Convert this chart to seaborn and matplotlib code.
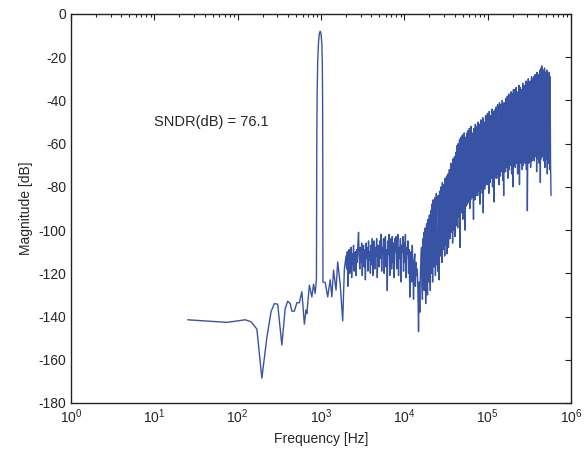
import numpy as np
import pandas as pd
import matplotlib
matplotlib.use("Agg")
import matplotlib.pyplot as plt
import seaborn as sns

sns.set_style("white")
plt.rcParams['font.family'] = ['Liberation Sans', 'DejaVu Sans']
plt.rcParams['mathtext.fontset'] = 'custom'
plt.rcParams['mathtext.rm'] = 'Liberation Sans'
plt.rcParams['mathtext.it'] = 'Liberation Sans'
plt.rcParams['axes.unicode_minus'] = False
plt.rcParams['xtick.direction'] = 'in'
plt.rcParams['ytick.direction'] = 'in'

LINE_COLOR = '#3953A4'

# low-frequency part + signal tone (log10 of frequency, dB)
logf_low = [1.40, 1.87, 2.09, 2.16, 2.23, 2.29, 2.35, 2.40, 2.44, 2.48, 2.53, 2.57,
            2.60, 2.63, 2.65, 2.68, 2.71, 2.74, 2.77, 2.80, 2.82, 2.83, 2.86, 2.89,
            2.91, 2.93, 2.945, 2.949, 2.953, 2.96, 2.97, 2.98, 2.99, 3.00, 3.01,
            3.016, 3.019, 3.021, 3.023, 3.05, 3.08, 3.11, 3.13, 3.15, 3.18, 3.20,
            3.23, 3.26, 3.28, 3.30]
mag_low = [-141.5, -142.7, -141.5, -142.4, -145.8, -168.5, -149.7, -137.8, -134, -134.3,
           -153.2, -136.3, -132.9, -134, -137.5, -137.5, -133.6, -133.6, -128.5, -143.5,
           -137, -138.6, -125.5, -130.9, -125, -129.3, -122.4, -60, -38, -22, -13, -9,
           -8, -9, -14, -24, -40, -70, -124, -124.2, -130.9, -123, -130.9, -118.5,
           -127.8, -114.7, -125, -142, -118, -112]

# in-band noise floor, 2 kHz .. 16 kHz
mag_mid = [
    -118, -110, -126, -114, -109, -120, -113, -108, -122, -111, -116, -107, -119, -112, -110, -121, -109, -115, -106, -101,
    -112, -118, -108, -115, -106, -121, -110, -107, -117, -109, -123, -106, -113, -108, -119, -105, -114, -110, -120, -107,
    -116, -104, -121, -109, -105, -118, -108, -112, -104, -122, -107, -110, -117, -105, -113, -102, -119, -108, -111, -104,
    -120, -106, -103, -117, -109, -128, -105, -111, -102, -121, -107, -104, -118, -103, -115, -106, -122, -104, -110, -103,
    -118, -106, -102, -121, -108, -113, -104, -124, -107, -110, -103, -119, -106, -115, -102, -122, -108, -111, -105, -120,
    -109, -131, -112, -110, -124, -107, -118, -132, -114, -111, -126, -115, -121, -118, -128, -147, -124, -138, -120, -112,
]

# shaped quantisation noise, 16 kHz .. 580 kHz
mag_high = [
    -108, -125, -132, -104, -118, -101, -128, -112, -99, -134, -106, -97, -122, -130, -95, -110, -124, -93, -116, -128,
    -91, -120, -88, -104, -124, -86, -112, -117, -92, -85, -121, -100, -83, -116, -108, -119, -84, -96, -123, -82,
    -98, -112, -80, -106, -115, -78, -90, -109, -79, -101, -112, -76, -95, -107, -75, -111, -86, -74, -108, -99,
    -72, -104, -88, -69, -101, -94, -70, -106, -67, -82, -100, -66, -103, -90, -64, -98, -61, -85, -99, -60,
    -78, -94, -58, -108, -70, -57, -92, -82, -56, -95, -64, -90, -55, -76, -100, -57, -89, -68, -55, -88,
    -54, -73, -87, -53, -90, -62, -86, -52, -80, -55, -85, -69, -95, -53, -78, -86, -51, -66, -84, -52,
    -75, -84, -50, -60, -82, -51, -88, -70, -49, -81, -58, -83, -48, -92, -65, -50, -81, -74, -47, -79,
    -62, -79, -46, -77, -55, -83, -45, -70, -78, -47, -76, -58, -44, -80, -66, -45, -87, -52, -76, -44,
    -71, -43, -76, -60, -42, -74, -50, -79, -41, -68, -75, -42, -56, -73, -40, -77, -63, -84, -41, -73,
    -48, -73, -39, -66, -71, -38, -76, -55, -37, -72, -61, -40, -70, -36, -74, -52, -37, -80, -35, -70,
    -64, -35, -71, -47, -34, -69, -58, -74, -36, -70, -33, -79, -51, -34, -69, -62, -35, -72, -32, -70,
    -45, -68, -33, -69, -56, -31, -72, -32, -91, -62, -30, -69, -49, -67, -31, -71, -58, -29, -68, -30,
    -67, -40, -29, -68, -52, -28, -66, -30, -73, -27, -60, -67, -28, -69, -44, -26, -78, -25, -67, -24,
    -55, -66, -26, -68, -38, -25, -71, -61, -27, -67, -26, -74, -48, -28, -69, -27, -72, -29, -70, -84,
]

# frequency bins for the dense parts (evenly spaced on the log axis)
logf_mid = np.linspace(3.3075, 4.20, len(mag_mid))
logf_high = np.linspace(4.2056, 5.76, len(mag_high))

logf = np.concatenate([logf_low, logf_mid, logf_high])
mag = np.concatenate([mag_low, mag_mid, mag_high])
df = pd.DataFrame({'freq': 10 ** logf, 'mag': mag})

fig = plt.figure(figsize=(5.87, 4.53), dpi=100)
ax = fig.add_axes([0.121, 0.1104, 0.8518, 0.8587])

sns.lineplot(data=df, x='freq', y='mag', sort=False, estimator=None,
             color=LINE_COLOR, linewidth=1.0, ax=ax)

ax.set_xscale('log')
ax.set_xlim(1, 1e6)
ax.set_ylim(-180, 0)
ax.set_yticks(np.arange(-180, 1, 20))
ax.set_xticks([10 ** k for k in range(7)])
ax.xaxis.set_minor_locator(matplotlib.ticker.LogLocator(base=10, subs=np.arange(2, 10)))
ax.xaxis.set_minor_formatter(matplotlib.ticker.NullFormatter())

ax.tick_params(which='both', top=True, right=True, direction='in', labelsize=10, color='#222222')
ax.tick_params(which='major', length=4, width=0.8)
ax.tick_params(which='minor', length=2.5, width=0.8)
for s in ax.spines.values():
    s.set_linewidth(1.0)
    s.set_color('#222222')

ax.set_xlabel('Frequency [Hz]', fontsize=10)
ax.set_ylabel('Magnitude [dB]', fontsize=10)
ax.text(10, -50, 'SNDR(dB) = 76.1', fontsize=10.5, ha='left', va='center')

plt.savefig('out.png', dpi=100)
plt.close()
